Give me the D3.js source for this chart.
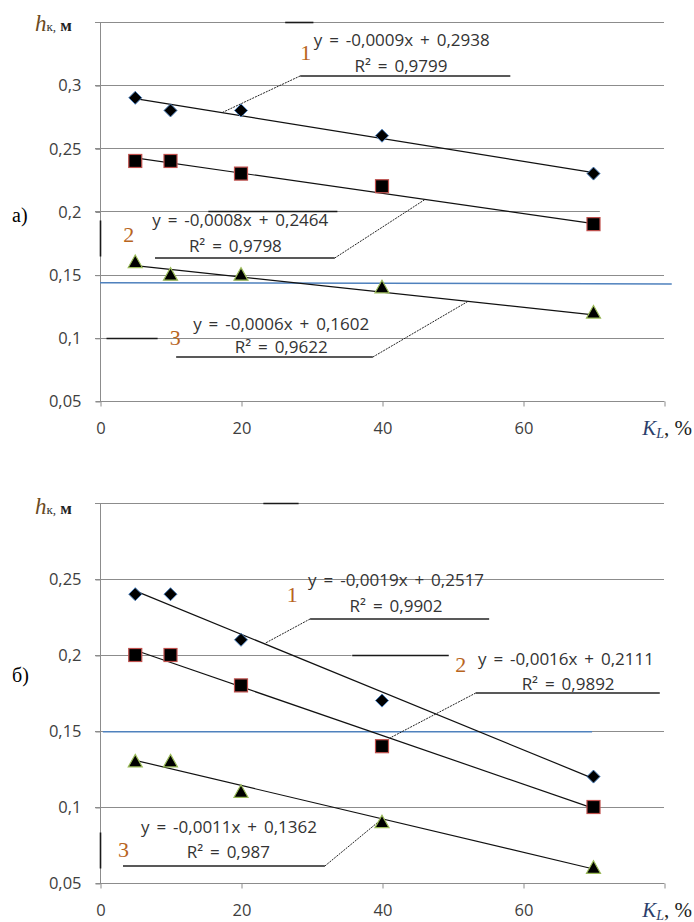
<!DOCTYPE html>
<html>
<head>
<meta charset="utf-8">
<script src="https://cdn.jsdelivr.net/npm/d3@7"></script>
<style>
  body { margin: 0; background: #fff; }
  svg { display: block; }
</style>
</head>
<body>
<div id="chart"></div>
<script>
// ---- data ----
const kL = [5, 10, 20, 40, 70];
const xTicks = [0, 20, 40, 60, 80];
const xTickLabels = ["0", "20", "40", "60", ""];

// panel а)
const a1 = [0.29, 0.28, 0.28, 0.26, 0.23];
const a2 = [0.24, 0.24, 0.23, 0.22, 0.19];
const a3 = [0.16, 0.15, 0.15, 0.14, 0.12];
const aSlope = [-0.0009, -0.0008, -0.0006];
const aIntercept = [0.2938, 0.2464, 0.1602];
const aEq = ["y = -0,0009x + 0,2938", "y = -0,0008x + 0,2464", "y = -0,0006x + 0,1602"];
const aR2 = ["R² = 0,9799", "R² = 0,9798", "R² = 0,9622"];
const aTicks = [0.05, 0.1, 0.15, 0.2, 0.25, 0.3];
const aTickLabels = ["0,05", "0,1", "0,15", "0,2", "0,25", "0,3"];
const aLevel = [0.1437, 0.1427];

// panel б)
const b1 = [0.24, 0.24, 0.21, 0.17, 0.12];
const b2 = [0.20, 0.20, 0.18, 0.14, 0.10];
const b3 = [0.13, 0.13, 0.11, 0.09, 0.06];
const bSlope = [-0.0019, -0.0016, -0.0011];
const bIntercept = [0.2517, 0.2111, 0.1362];
const bEq = ["y = -0,0019x + 0,2517", "y = -0,0016x + 0,2111", "y = -0,0011x + 0,1362"];
const bR2 = ["R² = 0,9902", "R² = 0,9892", "R² = 0,987"];
const bTicks = [0.05, 0.1, 0.15, 0.2, 0.25];
const bTickLabels = ["0,05", "0,1", "0,15", "0,2", "0,25"];
const bLevel = [0.1495, 0.1495];

const W = 694, H = 922;
const svg = d3.select("#chart").append("svg")
  .attr("width", W).attr("height", H);

const gridColor = "#8c8c8c";
const numColor = "#b8651e";
const sans = "'Open Sans', 'Noto Sans', sans-serif";
const serif = "'Liberation Serif', 'DejaVu Serif', serif";

const panels = [
  {
    series: [a1, a2, a3], slope: aSlope, intercept: aIntercept, eq: aEq, r2: aR2,
    ticks: aTicks, tickLabels: aTickLabels, level: aLevel, levelX: [0, 81.1],
    yMax: 0.35, top: 22, bottom: 401, letter: "а)", letterY: 222, titleY: 31,
    gridEnd: { "0.2": 70.9 },
    callouts: [
      { num: [28.4, 0.320], eq: [42.8, 0.331], r2: [42.7, 0.3104], ul: [28.4, 58.2, 0.3073], end: 17.3 },
      { num: [3.3, 0.176], eq: [19.9, 0.1885], r2: [19.2, 0.168], ul: [7.8, 33.3, 0.1632], end: 46.1, fromRight: true },
      { num: [9.9, 0.0943], eq: [25.7, 0.1062], r2: [25.7, 0.088], ul: [10.8, 38.7, 0.0848], end: 52.2, fromRight: true }
    ],
    marks: [[26.2, 0.35, 30.2, 0.35], [15.3, 0.2, 33.6, 0.2], [0, 0.1933, 0, 0.1648], [0.85, 0.1, 8.1, 0.1]]
  },
  {
    series: [b1, b2, b3], slope: bSlope, intercept: bIntercept, eq: bEq, r2: bR2,
    ticks: bTicks, tickLabels: bTickLabels, level: bLevel, levelX: [0.4, 69.8],
    yMax: 0.3, top: 503, bottom: 883, letter: "б)", letterY: 682, titleY: 514,
    gridEnd: { "0.2": 35.7 },
    callouts: [
      { num: [26.5, 0.2349], eq: [42.0, 0.2454], r2: [42.0, 0.2283], ul: [29.8, 55.2, 0.2237], end: 23.3 },
      { num: [50.4, 0.1888], eq: [66.1, 0.1934], r2: [66.4, 0.177], ul: [53.3, 79.4, 0.175], end: 41.1 },
      { num: [2.55, 0.0671], eq: [18.3, 0.0829], r2: [18.2, 0.0664], ul: [3.26, 31.9, 0.0612], end: 40, fromRight: true }
    ],
    marks: [[23.1, 0.3, 28.1, 0.3], [35.7, 0.2, 49.4, 0.2], [0, 0.0836, 0, 0.0599]]
  }
];

const x = d3.scaleLinear().domain([0, 80]).range([100, 664]);

const markerFns = [
  // diamond
  (g, px, py) => g.append("path")
    .attr("d", `M${px},${py - 6.5}L${px + 6.5},${py}L${px},${py + 6.5}L${px - 6.5},${py}Z`)
    .attr("fill", "#000").attr("stroke", "#4a7ebb").attr("stroke-width", 1),
  // square
  (g, px, py) => g.append("rect")
    .attr("x", px - 6.5).attr("y", py - 6.5).attr("width", 13).attr("height", 13)
    .attr("fill", "#000").attr("stroke", "#c0504d").attr("stroke-width", 1.2),
  // triangle
  (g, px, py) => g.append("path")
    .attr("d", `M${px},${py - 7}L${px + 7},${py + 5.5}L${px - 7},${py + 5.5}Z`)
    .attr("fill", "#000").attr("stroke", "#9bbb59").attr("stroke-width", 1.2)
];

panels.forEach(p => {
  const y = d3.scaleLinear().domain([0.05, p.yMax]).range([p.bottom, p.top]);
  const g = svg.append("g");

  // gridlines (including top one)
  const grid = p.ticks.slice(1).concat([p.yMax]);
  grid.forEach(v => {
    const end = p.gridEnd[String(v)] !== undefined ? p.gridEnd[String(v)] : 80;
    g.append("line")
      .attr("x1", x(0) - 5).attr("x2", x(end))
      .attr("y1", Math.round(y(v)) + 0.5).attr("y2", Math.round(y(v)) + 0.5)
      .attr("stroke", gridColor).attr("stroke-width", 1);
  });

  // axes
  const yAxis = d3.axisLeft(y).tickValues(p.ticks)
    .tickFormat((d, i) => p.tickLabels[i]).tickSize(5).tickPadding(14);
  const yg = g.append("g").attr("transform", `translate(${x(0) + 0.5},0.5)`).call(yAxis);
  yg.select(".domain").attr("stroke", gridColor)
    .attr("d", `M0,${y(0.05)}V${y(p.yMax)}`);
  yg.selectAll(".tick line").attr("stroke", gridColor);
  yg.selectAll(".tick text").attr("fill", "#404040")
    .style("font-family", sans).style("font-size", "16.5px");

  const xAxis = d3.axisBottom(x).tickValues(xTicks)
    .tickFormat((d, i) => xTickLabels[i]).tickSize(5).tickPadding(16);
  const xg = g.append("g").attr("transform", `translate(0.5,${Math.round(y(0.05)) + 0.5})`).call(xAxis);
  xg.select(".domain").attr("stroke", gridColor).attr("d", `M${x(0) - 5},0H${x(80)}`);
  xg.selectAll(".tick line").attr("stroke", gridColor);
  xg.selectAll(".tick text").attr("fill", "#404040")
    .style("font-family", sans).style("font-size", "16.5px");

  // stray dark segments
  p.marks.forEach(m => {
    g.append("line")
      .attr("x1", x(m[0]) + 0.5).attr("y1", Math.round(y(m[1])) + 0.5)
      .attr("x2", x(m[2]) + 0.5).attr("y2", Math.round(y(m[3])) + 0.5)
      .attr("stroke", "#1a1a1a").attr("stroke-width", 1.6);
  });

  // blue reference level
  g.append("line")
    .attr("x1", x(p.levelX[0])).attr("x2", x(p.levelX[1]))
    .attr("y1", y(p.level[0])).attr("y2", y(p.level[1]))
    .attr("stroke", "#4f81bd").attr("stroke-width", 1.5);

  // trendlines
  p.slope.forEach((s, i) => {
    const f = v => s * v + p.intercept[i];
    g.append("line")
      .attr("x1", x(kL[0])).attr("y1", y(f(kL[0])))
      .attr("x2", x(kL[kL.length - 1])).attr("y2", y(f(kL[kL.length - 1])))
      .attr("stroke", "#111").attr("stroke-width", 1.2);
  });

  // callouts
  p.callouts.forEach((c, i) => {
    const f = v => p.slope[i] * v + p.intercept[i];
    const ulStart = c.fromRight ? c.ul[1] : c.ul[0];
    g.append("line")
      .attr("x1", x(c.ul[0])).attr("x2", x(c.ul[1]))
      .attr("y1", y(c.ul[2])).attr("y2", y(c.ul[2]))
      .attr("stroke", "#222").attr("stroke-width", 1.5);
    g.append("line")
      .attr("x1", x(ulStart)).attr("y1", y(c.ul[2]))
      .attr("x2", x(c.end)).attr("y2", y(f(c.end)))
      .attr("stroke", "#222").attr("stroke-width", 1)
      .attr("stroke-dasharray", "2,1");
    g.append("text")
      .attr("x", x(c.num[0])).attr("y", y(c.num[1]))
      .attr("fill", numColor)
      .style("font-family", serif).style("font-size", "22px")
      .text(String(i + 1));
    g.append("text")
      .attr("x", x(c.eq[0])).attr("y", y(c.eq[1]))
      .attr("text-anchor", "middle").attr("fill", "#333")
      .style("font-family", sans).style("font-size", "17px")
      .style("word-spacing", "2.5px")
      .text(p.eq[i]);
    g.append("text")
      .attr("x", x(c.r2[0])).attr("y", y(c.r2[1]))
      .attr("text-anchor", "middle").attr("fill", "#333")
      .style("font-family", sans).style("font-size", "17px")
      .style("word-spacing", "2.5px")
      .text(p.r2[i]);
  });

  // markers
  p.series.forEach((vals, si) => {
    vals.forEach((v, j) => markerFns[si](g, x(kL[j]), y(v)));
  });

  // panel letter
  g.append("text")
    .attr("x", 12).attr("y", p.letterY)
    .style("font-family", serif).style("font-size", "20px")
    .text(p.letter);

  // y title h_к, м
  const t = g.append("text")
    .attr("x", 35).attr("y", p.titleY)
    .style("font-family", serif).style("font-size", "23px");
  t.append("tspan").attr("fill", "#6b4a22").style("font-style", "italic").text("h");
  t.append("tspan").attr("font-size", "13px").attr("fill", "#333").text("к,");
  t.append("tspan").attr("fill", "#222").attr("font-size", "17px").attr("font-weight", "bold").text(" м");

  // x title K_L, %
  const xt = g.append("text")
    .attr("x", 692).attr("y", p.bottom + 34)
    .attr("text-anchor", "end")
    .style("font-family", serif).style("font-size", "21px");
  xt.append("tspan").attr("fill", "#2c3e6b").style("font-style", "italic").text("K");
  xt.append("tspan").attr("font-size", "14px").attr("dy", 3).style("font-style", "italic").attr("fill", "#2c3e6b").text("L");
  xt.append("tspan").attr("dy", -3).attr("fill", "#222").text(", %");
});
</script>
</body>
</html>
